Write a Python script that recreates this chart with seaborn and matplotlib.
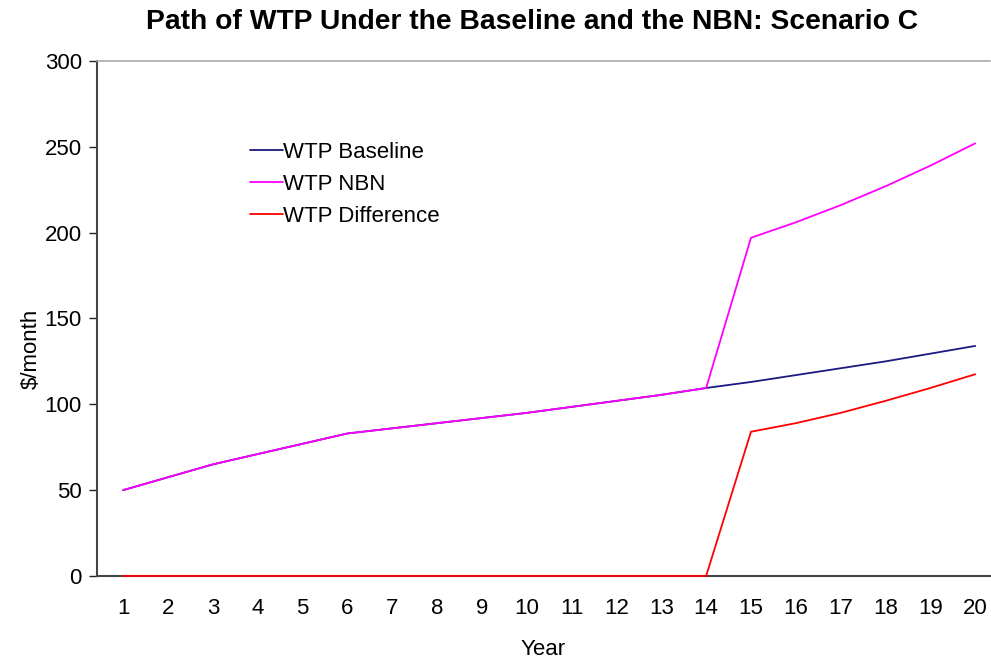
import numpy as np
import pandas as pd
import matplotlib
matplotlib.use("Agg")
import matplotlib.pyplot as plt
import seaborn as sns

# data
years = list(range(1, 21))
wtp_baseline = [50, 57.5, 65, 71, 77, 83, 86, 89, 92, 95,
                98.5, 102, 105.5, 109.5, 113, 117, 121, 125, 129.5, 134]
wtp_nbn = [50, 57.5, 65, 71, 77, 83, 86, 89, 92, 95,
           98.5, 102, 105.5, 109.5, 197, 206, 216, 227, 239, 252]
wtp_diff = [0, 0, 0, 0, 0, 0, 0, 0, 0, 0,
            0, 0, 0, 0, 84, 89, 95, 102, 109.5, 117.5]

series_names = ["WTP Baseline", "WTP NBN", "WTP Difference"]
series_colors = ["#1a1a80", "#ff00ff", "#ff0000"]

df = pd.DataFrame({
    "Year": years * 3,
    "value": wtp_baseline + wtp_nbn + wtp_diff,
    "series": [s for s in series_names for _ in years],
})

sns.set_style("white")
plt.rcParams["font.family"] = ["Liberation Sans", "DejaVu Sans"]
plt.rcParams["text.color"] = "black"
plt.rcParams["xtick.color"] = "black"
plt.rcParams["ytick.color"] = "black"
plt.rcParams["axes.labelcolor"] = "black"

fig = plt.figure(figsize=(9.91, 6.59), dpi=100)
ax = fig.add_axes([0.098, 0.126, 0.901, 0.7815])

sns.lineplot(data=df, x="Year", y="value", hue="series", hue_order=series_names,
             palette=series_colors, linewidth=1.3, ax=ax, legend=True)
for line in ax.lines:
    line.set_clip_on(False)
    line.set_zorder(5)

ax.set_xlim(0.42, 20.33)
ax.set_ylim(0, 300)
ax.set_yticks(range(0, 301, 50))
ax.set_xticks(years)
ax.set_xticks(np.arange(0.5, 20.5, 1), minor=True)
ax.tick_params(axis="x", which="both", direction="in", length=6, width=1,
               color="#222222", labelsize=16, pad=16)
ax.tick_params(axis="y", direction="out", length=6, width=1, color="#222222",
               labelsize=16, pad=5, left=True)

ax.spines["right"].set_visible(False)
ax.spines["top"].set_color("#aaaaaa")
ax.spines["top"].set_linewidth(1.2)
for side in ["left", "bottom"]:
    ax.spines[side].set_color("#444444")
    ax.spines[side].set_linewidth(1.5)

ax.set_xlabel("Year", fontsize=16, labelpad=14)
ax.set_ylabel("$/month", fontsize=16)
ax.yaxis.set_label_coords(-0.062, 0.44)
fig.suptitle("Path of WTP Under the Baseline and the NBN: Scenario C",
             fontsize=20.3, fontweight="bold", x=0.537, y=0.986)

leg = ax.legend(loc="upper left", bbox_to_anchor=(0.171, 0.843), frameon=False,
                fontsize=16, handlelength=1.5, handletextpad=0.0,
                labelspacing=0.5, borderaxespad=0, borderpad=0)

fig.savefig("out.png", dpi=100)
